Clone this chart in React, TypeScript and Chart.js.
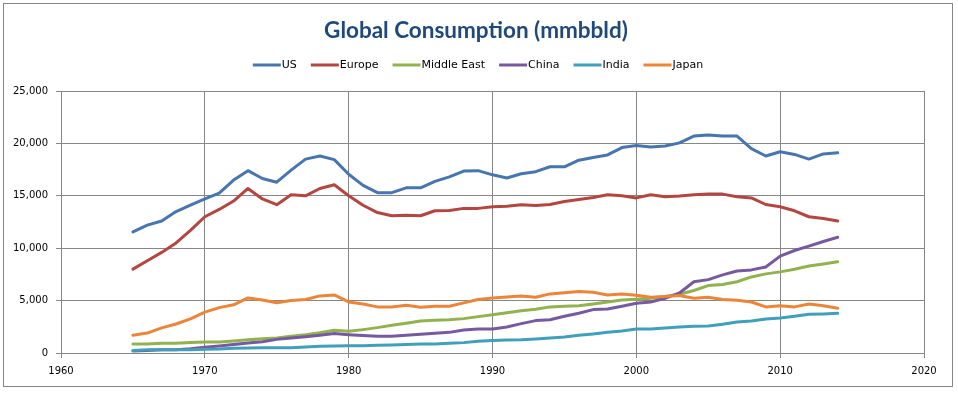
import React, { useEffect, useRef } from 'react';
import { Chart, registerables } from 'chart.js';

Chart.register(...registerables);

const chartTitle = 'Global Consumption (mmbbld)';

const years = [
  1965, 1966, 1967, 1968, 1969, 1970, 1971, 1972, 1973, 1974,
  1975, 1976, 1977, 1978, 1979, 1980, 1981, 1982, 1983, 1984,
  1985, 1986, 1987, 1988, 1989, 1990, 1991, 1992, 1993, 1994,
  1995, 1996, 1997, 1998, 1999, 2000, 2001, 2002, 2003, 2004,
  2005, 2006, 2007, 2008, 2009, 2010, 2011, 2012, 2013, 2014,
];

const seriesNames = ['US', 'Europe', 'Middle East', 'China', 'India', 'Japan'];

const usValues = [
  11560, 12200, 12600, 13500, 14100, 14700, 15250, 16500, 17400, 16650,
  16300, 17450, 18500, 18800, 18450, 17050, 16000, 15300, 15300, 15760,
  15760, 16370, 16800, 17360, 17400, 17000, 16700, 17100, 17300, 17770,
  17770, 18400, 18660, 18900, 19600, 19800, 19650, 19750, 20050, 20700,
  20800, 20700, 20700, 19500, 18800, 19200, 18950, 18500, 19000, 19100,
];

const europeValues = [
  8000, 8800, 9600, 10500, 11700, 13000, 13700, 14500, 15700, 14700,
  14150, 15100, 15000, 15700, 16050, 15000, 14100, 13400, 13100, 13150,
  13100, 13570, 13600, 13800, 13800, 13950, 14000, 14140, 14080, 14170,
  14460, 14650, 14840, 15100, 15000, 14800, 15100, 14900, 14970, 15100,
  15160, 15160, 14900, 14800, 14170, 13950, 13570, 13000, 12830, 12600,
];

const middleEastValues = [
  860, 860, 920, 920, 1000, 1050, 1050, 1150, 1270, 1370,
  1430, 1600, 1750, 1940, 2170, 2070, 2230, 2420, 2640, 2830,
  3050, 3120, 3180, 3280, 3470, 3660, 3850, 4040, 4170, 4400,
  4460, 4500, 4680, 4870, 5060, 5130, 5220, 5400, 5600, 5960,
  6430, 6530, 6800, 7260, 7550, 7740, 8000, 8300, 8500, 8700,
];

const chinaValues = [
  200, 250, 300, 300, 400, 550, 670, 800, 950, 1080,
  1300, 1430, 1560, 1700, 1850, 1750, 1660, 1600, 1600, 1700,
  1780, 1880, 1970, 2200, 2290, 2290, 2480, 2800, 3090, 3180,
  3500, 3790, 4140, 4200, 4460, 4750, 4870, 5220, 5730, 6800,
  7000, 7450, 7830, 7930, 8200, 9240, 9780, 10200, 10640, 11050,
];

const indiaValues = [
  250, 300, 300, 300, 300, 350, 380, 450, 480, 500,
  500, 500, 570, 640, 670, 700, 700, 730, 760, 800,
  860, 860, 920, 990, 1110, 1200, 1240, 1270, 1340, 1430,
  1530, 1690, 1820, 1970, 2100, 2290, 2290, 2390, 2480, 2550,
  2580, 2740, 2960, 3060, 3250, 3340, 3500, 3700, 3730, 3790,
];

const japanValues = [
  1690, 1900, 2400, 2770, 3250, 3900, 4330, 4600, 5250, 5060,
  4800, 5000, 5100, 5450, 5540, 4870, 4680, 4400, 4400, 4550,
  4360, 4460, 4460, 4780, 5100, 5250, 5350, 5450, 5320, 5640,
  5760, 5860, 5800, 5540, 5640, 5500, 5320, 5380, 5480, 5220,
  5320, 5100, 5030, 4870, 4400, 4500, 4400, 4680, 4500, 4270,
];

const seriesColors = ['#4675B0', '#B5453F', '#91B24F', '#7659A0', '#409FBA', '#EC8538'];

const GRID = '#868686';

const decorPlugin = {
  id: 'decor',
  afterDraw(chart: any) {
    const ctx = chart.ctx as CanvasRenderingContext2D;
    ctx.save();
    // outer frame
    ctx.strokeStyle = GRID;
    ctx.lineWidth = 1;
    ctx.strokeRect(3.5, 3.5, 949, 383);

    // title (fit to the reference width)
    let size = 28;
    ctx.font = `bold ${size}px Lato`;
    while (size > 10 && ctx.measureText(chartTitle).width > 305) {
      size -= 0.5;
      ctx.font = `bold ${size}px Lato`;
    }
    ctx.fillStyle = '#1F497D';
    ctx.textAlign = 'center';
    ctx.textBaseline = 'alphabetic';
    ctx.fillText(chartTitle, 476, 38);

    // legend
    const datasets = chart.data.datasets;
    ctx.font = '11px "DejaVu Sans"';
    const lineLen = 28;
    const textGap = 1;
    const itemGap = 14;
    const widths = datasets.map((d: any) => ctx.measureText(d.label).width);
    let total = 0;
    widths.forEach((w: number, i: number) => {
      total += lineLen + textGap + w + (i > 0 ? itemGap : 0);
    });
    let x = 478 - total / 2;
    const ly = 65;
    ctx.textAlign = 'left';
    ctx.textBaseline = 'middle';
    datasets.forEach((d: any, i: number) => {
      ctx.strokeStyle = d.borderColor;
      ctx.lineWidth = 3;
      ctx.beginPath();
      ctx.moveTo(x, ly);
      ctx.lineTo(x + lineLen, ly);
      ctx.stroke();
      ctx.fillStyle = '#000000';
      ctx.fillText(d.label, x + lineLen + textGap, ly + 0.5);
      x += lineLen + textGap + widths[i] + itemGap;
    });
    ctx.restore();
  },
};

export default function App() {
  const ref = useRef<HTMLCanvasElement>(null);

  useEffect(() => {
    document.body.style.margin = '0';
    const canvas = ref.current!;
    const series = [usValues, europeValues, middleEastValues, chinaValues, indiaValues, japanValues];
    const chart = new Chart(canvas, {
      type: 'line',
      data: {
        datasets: seriesNames.map((name, i) => ({
          label: name,
          data: years.map((yr, j) => ({ x: yr, y: series[i][j] })),
          borderColor: seriesColors[i],
          backgroundColor: seriesColors[i],
          borderWidth: 3,
          pointRadius: 0,
          pointHoverRadius: 0,
          tension: 0,
          fill: false,
          borderJoinStyle: 'round',
          borderCapStyle: 'round',
          order: seriesNames.length - 1 - i,
        })),
      },
      options: {
        responsive: false,
        animation: false,
        devicePixelRatio: 1,
        layout: { padding: { left: 0, top: 91, right: 34, bottom: 10 } },
        plugins: {
          legend: { display: false },
          title: { display: false },
          tooltip: { enabled: false },
        },
        scales: {
          x: {
            type: 'linear',
            min: 1960,
            max: 2020,
            ticks: {
              stepSize: 10,
              callback: (v: any) => String(v),
              font: { family: 'DejaVu Sans', size: 10 },
              color: '#000000',
              padding: 7,
              maxRotation: 0,
              autoSkip: false,
            },
            grid: { color: GRID, lineWidth: 1, tickLength: 5, tickColor: GRID },
            border: { color: GRID, width: 1 },
            afterFit: (s: any) => {
              s.height = 30;
            },
          },
          y: {
            type: 'linear',
            min: 0,
            max: 25000,
            ticks: {
              stepSize: 5000,
              callback: (v: any) => Number(v).toLocaleString('en-US'),
              font: { family: 'DejaVu Sans', size: 10 },
              color: '#000000',
              padding: 8,
            },
            grid: { color: GRID, lineWidth: 1, tickLength: 5, tickColor: GRID },
            border: { color: GRID, width: 1 },
            afterFit: (s: any) => {
              s.width = 61;
            },
          },
        },
      } as any,
      plugins: [decorPlugin],
    });
    return () => chart.destroy();
  }, []);

  return (
    <canvas
      ref={ref}
      width={958}
      height={393}
      style={{ display: 'block', width: '958px', height: '393px' }}
    />
  );
}
